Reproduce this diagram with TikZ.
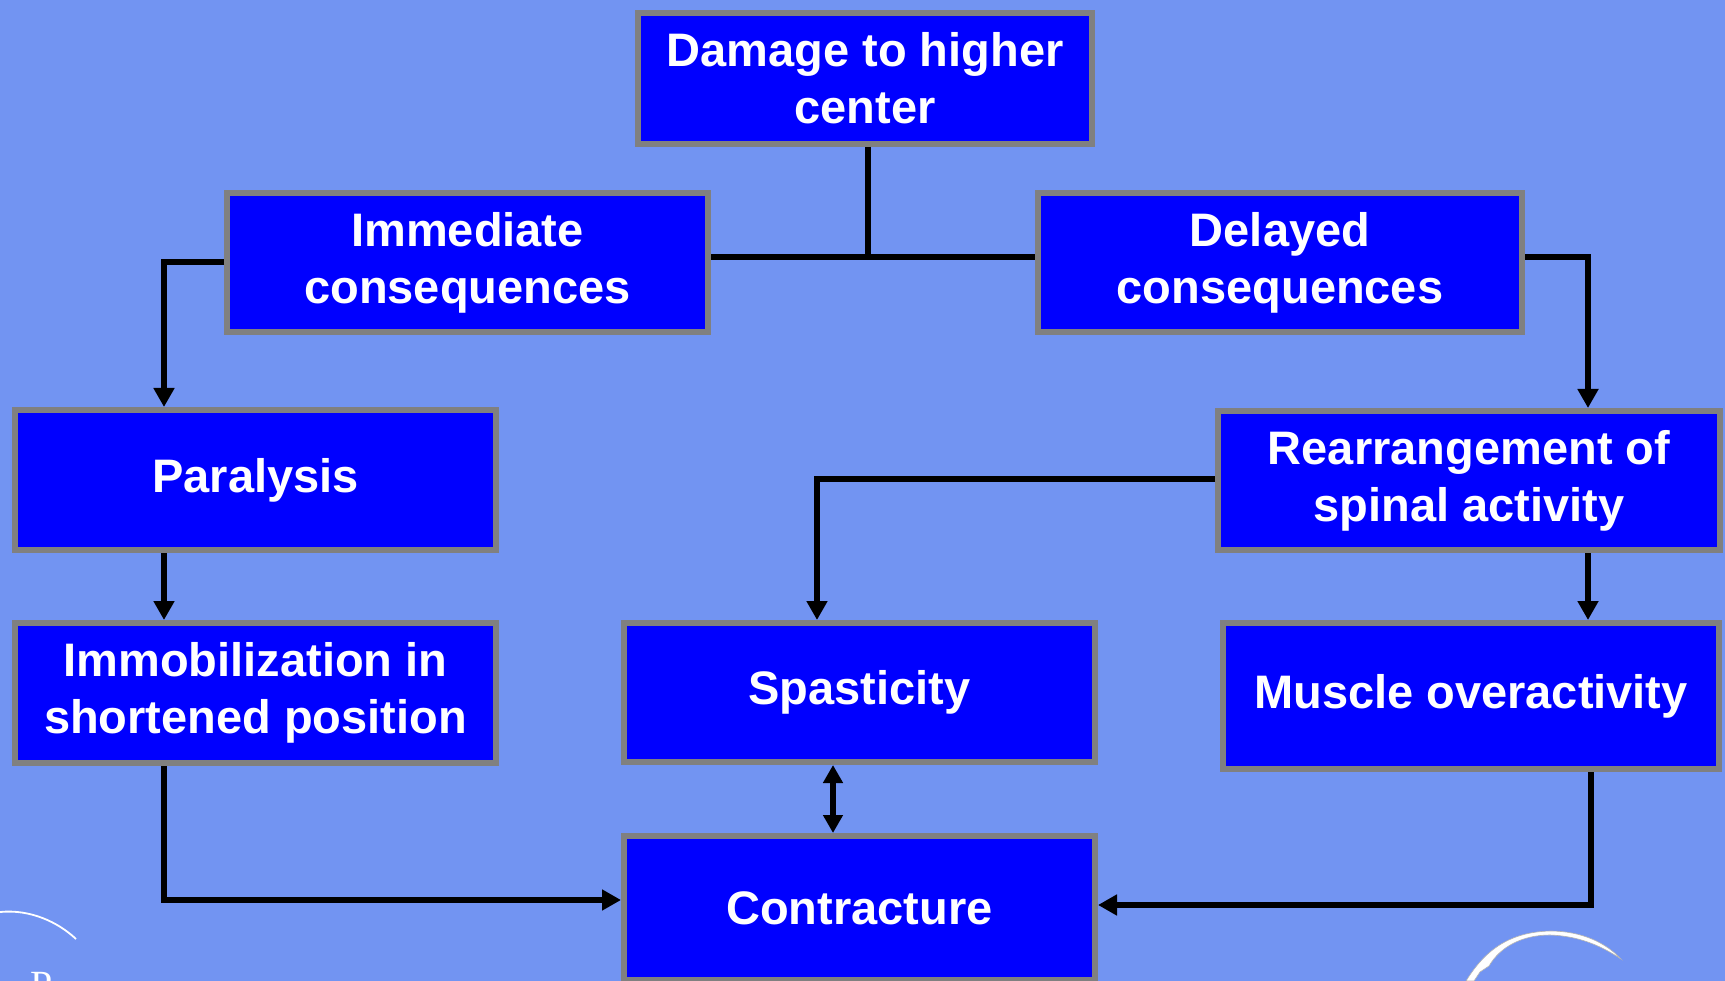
\documentclass[tikz,border=0pt]{standalone}
\usepackage{fontspec}
\setmainfont{Liberation Sans}
\newfontfamily\serifP{Liberation Serif}
\usetikzlibrary{arrows.meta,calc}
\definecolor{bg}{RGB}{114,148,242}
\definecolor{boxblue}{RGB}{0,0,255}
\definecolor{boxgray}{RGB}{128,128,128}
\tikzset{
 box/.style={draw=boxgray, line width=6pt, fill=boxblue, text=white, align=center,
   font=\fontsize{47}{57}\selectfont\bfseries, inner sep=0pt},
 conn/.style={draw=black, line width=6pt},
 arr/.style={conn, -{Triangle[width=20pt,length=19pt]}},
 darr/.style={conn, {Triangle[width=19pt,length=18pt]}-{Triangle[width=19pt,length=18pt]}},
}
\begin{document}
\begin{tikzpicture}[x=1pt,y=-1pt]
\clip (0,0) rectangle (1725,981);
\fill[bg] (0,0) rectangle (1725,981);

\node[box, minimum width=454pt, minimum height=131pt] (dmg) at (865,78.5) {Damage to higher\\center};
\node[box, minimum width=481pt, minimum height=139pt] (imm) at (467.5,262.5) {Immediate\\consequences};
\node[box, minimum width=484pt, minimum height=139pt] (del) at (1280,262.5) {Delayed\\consequences};
\node[box, minimum width=481pt, minimum height=140pt] (par) at (255.5,480) {Paralysis};
\node[box, minimum width=502pt, minimum height=139pt] (rea) at (1469,480.5) {Rearrangement of\\spinal activity};
\node[box, minimum width=481pt, minimum height=140pt] (imb) at (255.5,693) {Immobilization in\\shortened position};
\node[box, minimum width=471pt, minimum height=139pt] (spa) at (859.5,692.5) {Spasticity};
\node[box, minimum width=496pt, minimum height=146pt] (mus) at (1471,696) {Muscle overactivity};
\node[box, minimum width=471pt, minimum height=144pt] (con) at (859.5,908) {Contracture};

\coordinate (tj) at (868,257);
\draw[conn] (dmg.south -| tj) -- (tj);
\draw[conn] (imm.east |- tj) -- (del.west |- tj);
\coordinate (lc) at (164,262);
\draw[arr] (imm.west |- lc) -- (lc) -- (lc |- par.north);
\coordinate (rc) at (1588,257);
\draw[arr] (del.east |- rc) -- (rc) -- (rc |- rea.north);
\draw[arr] (par.south -| lc) -- (imb.north -| lc);
\coordinate (sc) at (817,479);
\draw[arr] (rea.west |- sc) -- (sc) -- (sc |- spa.north);
\draw[arr] (rea.south -| rc) -- (mus.north -| rc);
\coordinate (dc) at (833,0);
\draw[darr] (spa.south -| dc) -- (con.north -| dc);
\coordinate (bl) at (164,900);
\draw[arr] (imb.south -| bl) -- (bl) -- (con.west |- bl);
\coordinate (br) at (1591,905);
\draw[arr] (mus.south -| br) -- (br) -- (con.east |- br);

% decorative swooshes
\draw[white, line width=1.8pt] (0,912) .. controls (30,909) and (58,922) .. (76,939);
\filldraw[fill=white, draw=gray!60, line width=0.6pt]
  (1466,981) .. controls (1488,945) and (1515,932) .. (1550,931)
  .. controls (1582,931) and (1606,943) .. (1621,959)
  .. controls (1600,945) and (1578,936) .. (1550,935)
  .. controls (1522,935) and (1500,947) .. (1489,966)
  -- (1480,972) -- (1474,981) -- cycle;
\node[anchor=base west, text=white, font=\serifP\fontsize{40}{40}\selectfont, inner sep=0pt] (ptext) at (30,998) {P};
\end{tikzpicture}
\end{document}
